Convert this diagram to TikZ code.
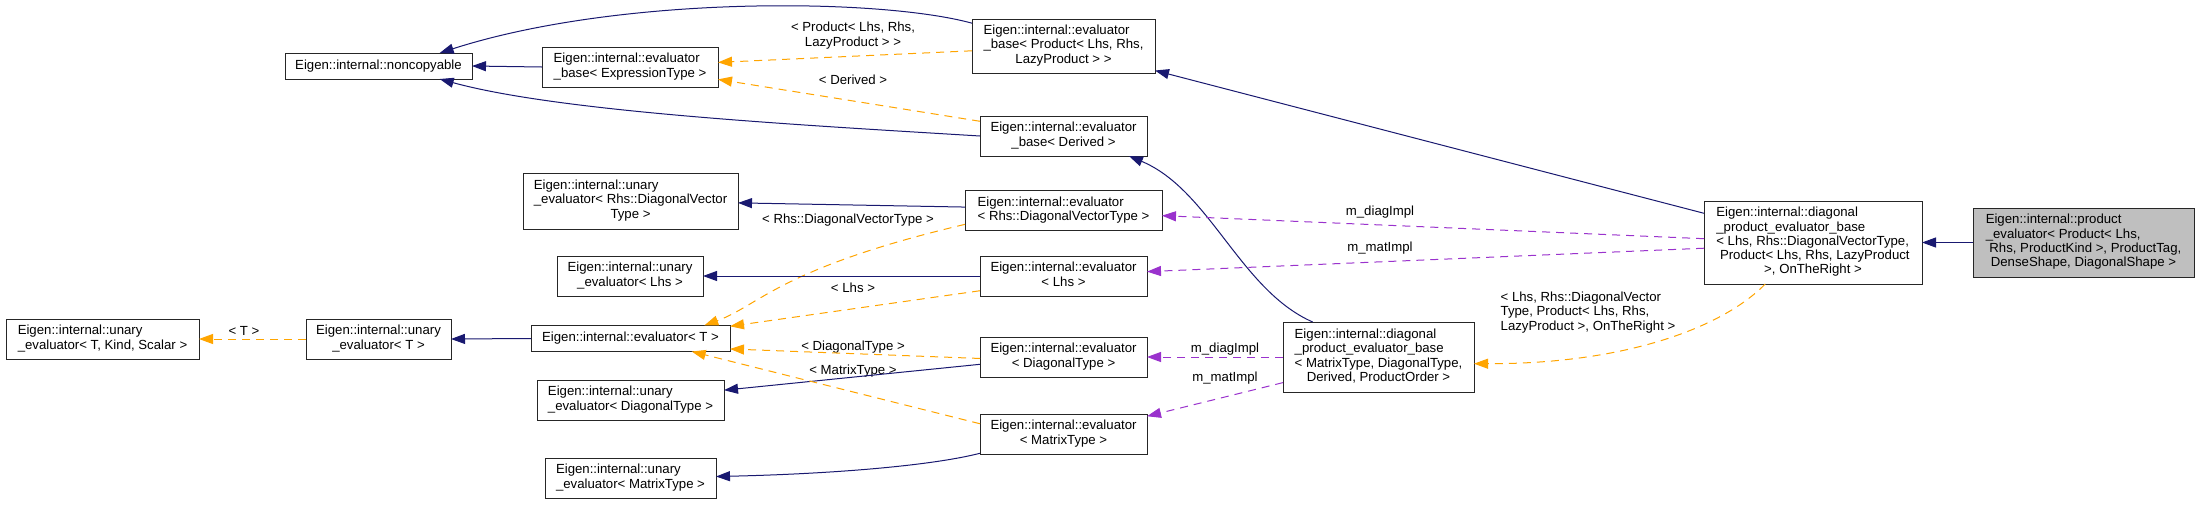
\documentclass[tikz,border=0pt]{standalone}
\usepackage{fontspec}
\setmainfont{Liberation Sans}
\usetikzlibrary{arrows.meta}
\definecolor{edgeblue}{HTML}{191970}
\definecolor{edgeorange}{HTML}{FFA500}
\definecolor{edgepurple}{HTML}{9A32CD}
\definecolor{nodegray}{HTML}{BFBFBF}
\newcommand{\ml}[2]{\begin{tabular}{@{}l@{}}#1\\\multicolumn{1}{@{}c@{}}{#2}\end{tabular}}
\begin{document}
\begin{tikzpicture}[x=1pt,y=-1pt,
  font=\fontsize{13.2}{14.3}\selectfont,
  box/.style={draw=black!85, line width=1pt, fill=white, inner sep=0pt, outer sep=0pt},
  lbl/.style={inner sep=0pt},
  tip/.style={-{Triangle[length=14pt,width=10pt]}},
  inh/.style={tip, draw=edgeblue, line width=1pt},
  tmpl/.style={tip, draw=edgeorange, line width=1pt, dash pattern=on 8pt off 6pt},
  usedby/.style={tip, draw=edgepurple, line width=1pt, dash pattern=on 8pt off 6pt}]
\fill[white] (0,0) rectangle (2200,504);
\useasboundingbox (0,0) rectangle (2200,504);

% nodes
\node[box, minimum width=187pt, minimum height=26pt] (noncopy) at (378.5,66) {Eigen::internal::noncopyable};
\node[box, minimum width=176pt, minimum height=40pt] (ebExpr) at (630,67) {\ml{Eigen::internal::evaluator}{\_base< ExpressionType >}};
\node[box, minimum width=183pt, minimum height=54pt] (ebProd) at (1063.5,46) {\ml{Eigen::internal::evaluator\\\_base< Product< Lhs, Rhs,}{LazyProduct > >}};
\node[box, minimum width=167pt, minimum height=40pt] (ebDer) at (1063.5,136) {\ml{Eigen::internal::evaluator}{\_base< Derived >}};
\node[box, minimum width=215pt, minimum height=56pt] (uRhs) at (630.5,201) {\ml{Eigen::internal::unary\\\_evaluator< Rhs::DiagonalVector}{Type >}};
\node[box, minimum width=197pt, minimum height=40pt] (eRhs) at (1063.5,210.5) {\ml{Eigen::internal::evaluator}{< Rhs::DiagonalVectorType >}};
\node[box, minimum width=146pt, minimum height=40pt] (uLhs) at (630,276) {\ml{Eigen::internal::unary}{\_evaluator< Lhs >}};
\node[box, minimum width=167pt, minimum height=40pt] (eLhs) at (1063.5,276) {\ml{Eigen::internal::evaluator}{< Lhs >}};
\node[box, minimum width=193pt, minimum height=40pt] (uTKS) at (102.5,339) {\ml{Eigen::internal::unary}{\_evaluator< T, Kind, Scalar >}};
\node[box, minimum width=145pt, minimum height=40pt] (uT) at (378.5,339) {\ml{Eigen::internal::unary}{\_evaluator< T >}};
\node[box, minimum width=199pt, minimum height=26pt] (eT) at (630.5,338.5) {Eigen::internal::evaluator< T >};
\node[box, minimum width=187pt, minimum height=40pt] (uDiag) at (630.5,400) {\ml{Eigen::internal::unary}{\_evaluator< DiagonalType >}};
\node[box, minimum width=171pt, minimum height=40pt] (uMat) at (630.5,478) {\ml{Eigen::internal::unary}{\_evaluator< MatrixType >}};
\node[box, minimum width=167pt, minimum height=40pt] (eDiag) at (1063.5,357) {\ml{Eigen::internal::evaluator}{< DiagonalType >}};
\node[box, minimum width=167pt, minimum height=40pt] (eMat) at (1063.5,434) {\ml{Eigen::internal::evaluator}{< MatrixType >}};
\node[box, minimum width=191pt, minimum height=70pt] (dMT) at (1378.5,357) {\ml{Eigen::internal::diagonal\\\_product\_evaluator\_base\\< MatrixType, DiagonalType,}{Derived, ProductOrder >}};
\node[box, minimum width=218pt, minimum height=83pt] (dLhs) at (1813,242.5) {\ml{Eigen::internal::diagonal\\\_product\_evaluator\_base\\< Lhs, Rhs::DiagonalVectorType,\\\ Product< Lhs, Rhs, LazyProduct}{>, OnTheRight >}};
\node[box, fill=nodegray, minimum width=221pt, minimum height=69pt] (prod) at (2083.5,242.5) {\ml{Eigen::internal::product\\\_evaluator< Product< Lhs,\\\ Rhs, ProductKind >, ProductTag,}{DenseShape, DiagonalShape >}};

% edge labels
\node[lbl] (lProd) at (853,36) {\ml{< Product< Lhs, Rhs,}{LazyProduct > >}};
\node[lbl] (lDer) at (853,80) {< Derived >};
\node[lbl] (lRhs) at (848,220) {< Rhs::DiagonalVectorType >};
\node[lbl] (lLhs) at (853,288) {< Lhs >};
\node[lbl] (lT) at (244,331) {< T >};
\node[lbl] (lDiag) at (853,347) {< DiagonalType >};
\node[lbl] (lMat) at (853,371) {< MatrixType >};
\node[lbl] (lmd1) at (1380,212) {m\_diagImpl};
\node[lbl] (lmm1) at (1380,248) {m\_matImpl};
\node[lbl] (lmd2) at (1225,349) {m\_diagImpl};
\node[lbl] (lmm2) at (1225,378) {m\_matImpl};
\node[lbl] (lBig) at (1588,313) {\ml{< Lhs, Rhs::DiagonalVector\\Type, Product< Lhs, Rhs,}{LazyProduct >, OnTheRight >}};

% edges
\draw[inh] (ebExpr.west) -- (noncopy.east);
\draw[inh] (ebProd.166) .. controls (880,-2) and (620,-5) .. (noncopy.12);
\draw[inh] (ebDer.west) .. controls (800,125) and (560,112) .. (noncopy.348);
\draw[tmpl] (ebProd.183) -- (ebExpr.3);
\draw[tmpl] (ebDer.170) -- (ebExpr.352);
\draw[inh] (dLhs.165) -- (ebProd.345);
\draw[inh] (dMT.152) .. controls (1240,290) and (1210,190) .. (ebDer.343);
\draw[inh] (eRhs.178) -- (uRhs.359);
\draw[tmpl] (eRhs.188) .. controls (780,268) and (760,305) .. (eT.10);
\draw[inh] (eLhs.west) -- (uLhs.east);
\draw[tmpl] (eLhs.190) -- (eT.7);
\draw[inh] (eT.west) -- (uT.east);
\draw[tmpl] (uT.west) -- (uTKS.east);
\draw[tmpl] (eDiag.181) -- (eT.354);
\draw[inh] (eDiag.185) -- (uDiag.6);
\draw[tmpl] (eMat.173) -- (eT.348);
\draw[inh] (eMat.193) .. controls (930,466) and (830,474) .. (uMat.1);
\draw[usedby] (dLhs.178) -- (eRhs.357);
\draw[usedby] (dLhs.183) -- (eLhs.3);
\draw[usedby] (dMT.west) -- (eDiag.east);
\draw[usedby] (dMT.195) -- (eMat.12);
\draw[tmpl] (dLhs.221) .. controls (1720,330) and (1620,364) .. (dMT.356);
\draw[inh] (prod.west) -- (dLhs.east);
\end{tikzpicture}
\end{document}
